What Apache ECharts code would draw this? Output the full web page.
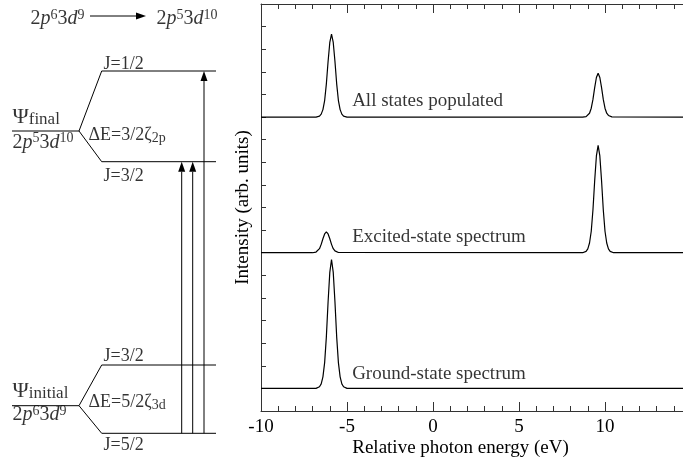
<!DOCTYPE html>
<html><head><meta charset="utf-8">
<script src="https://cdn.jsdelivr.net/npm/echarts/dist/echarts.min.js"></script>
<style>html,body{margin:0;padding:0;background:#fff}#c{width:683px;height:459px}</style>
</head><body><div id="c"></div>
<script>
// ---------- spectrum data (x: relative photon energy eV, y: intensity arb. units, curves offset) ----------
const allStatesSpectrum = [[-10,13.0],[-6.8,13.0],[-6.7,13.01],[-6.6,13.04],[-6.5,13.13],[-6.4,13.33],[-6.3,13.73],[-6.2,14.47],[-6.1,15.46],[-6.0,16.30],[-5.9,16.67],[-5.8,16.30],[-5.7,15.46],[-5.6,14.47],[-5.5,13.73],[-5.4,13.33],[-5.3,13.13],[-5.2,13.04],[-5.1,13.01],[-5.0,13.0],
  [8.7,13.0],[8.8,13.01],[8.9,13.02],[9.0,13.07],[9.1,13.17],[9.2,13.39],[9.3,13.78],[9.4,14.30],[9.5,14.75],[9.6,14.94],[9.7,14.75],[9.8,14.30],[9.9,13.78],[10.0,13.39],[10.1,13.17],[10.2,13.07],[10.3,13.02],[10.4,13.01],[10.5,13.0],[15,13.0]];
const excitedSpectrum = [[-10,7.0],[-7.0,7.0],[-6.9,7.01],[-6.8,7.03],[-6.7,7.08],[-6.6,7.18],[-6.5,7.37],[-6.4,7.62],[-6.3,7.83],[-6.2,7.92],[-6.1,7.83],[-6.0,7.62],[-5.9,7.37],[-5.8,7.18],[-5.7,7.08],[-5.6,7.03],[-5.5,7.01],[-5.4,7.0],
  [8.7,7.0],[8.8,7.02],[8.9,7.06],[9.0,7.17],[9.1,7.43],[9.2,7.95],[9.3,8.90],[9.4,10.18],[9.5,11.28],[9.6,11.75],[9.7,11.28],[9.8,10.18],[9.9,8.90],[10.0,7.95],[10.1,7.43],[10.2,7.17],[10.3,7.06],[10.4,7.02],[10.5,7.0],[15,7.0]];
const groundSpectrum = [[-10,1.0],[-6.8,1.0],[-6.7,1.02],[-6.6,1.07],[-6.5,1.20],[-6.4,1.51],[-6.3,2.14],[-6.2,3.28],[-6.1,4.82],[-6.0,6.13],[-5.9,6.70],[-5.8,6.13],[-5.7,4.82],[-5.6,3.28],[-5.5,2.14],[-5.4,1.51],[-5.3,1.20],[-5.2,1.07],[-5.1,1.02],[-5.0,1.0],[15,1.0]];
const spectrumLabels = ['All states populated', 'Excited-state spectrum', 'Ground-state spectrum'];
const spectrumLabelAnchors = [[-4.73,13.72],[-4.73,7.68],[-4.73,1.64]];
const xAxisTitle = 'Relative photon energy (eV)';
const yAxisTitle = 'Intensity (arb. units)';

// ---------- energy-level diagram (schematic units) ----------
const levelPolylines = [
  [[12,328],[79,328],[101.7,388],[216,388]],
  [[79,328],[101.7,297.3],[216,297.3]],
  [[12,53.3],[79,53.3],[101.7,94],[216,94]],
  [[79,53.3],[101.7,25.7],[216,25.7]]
];
const transitionArrows = [[181.7,25.7,181.7,297.3],[192.7,25.7,192.7,297.3],[204,25.7,204,388],[90,443,146,443]];
const diagramTexts = [
  '{n|2}{i|p}{sup|6}{n|3}{i|d}{sup|9}',
  '{n|2}{i|p}{sup|5}{n|3}{i|d}{sup|10}',
  '{psi|Ψ}{sub|final}',
  '{n|2}{i|p}{sup|5}{n|3}{i|d}{sup|10}',
  '{j|J=1/2}',
  '{j|J=3/2}',
  '{j|ΔE=3/2ζ}{zsub|2p}',
  '{psi|Ψ}{sub|initial}',
  '{n|2}{i|p}{sup|6}{n|3}{i|d}{sup|9}',
  '{j|J=3/2}',
  '{j|J=5/2}',
  '{j|ΔE=5/2ζ}{zsub|3d}'
];
const diagramTextAnchors = [[30,440],[156,440],[12,341.5],[12,316.5],[103,395],[103,283],[88,324],[12,68],[12,44],[103,103],[103,14],[88,57]];

const FONT = 'Liberation Serif';
const chart = echarts.init(document.getElementById('c'), null, {renderer: 'canvas'});

const lineSeries = [allStatesSpectrum, excitedSpectrum, groundSpectrum].map(d => ({
  type: 'line', xAxisIndex: 0, yAxisIndex: 0, data: d, symbol: 'none', silent: true,
  lineStyle: {color: '#000', width: 1.2}
}));

const levelSeries = levelPolylines.map(d => ({
  type: 'line', xAxisIndex: 2, yAxisIndex: 1, data: d, symbol: 'none', silent: true,
  lineStyle: {color: '#000', width: 1}
}));

const rich = {
  n: {fontFamily: FONT, fontSize: 20, lineHeight: 22, color: '#000'},
  i: {fontFamily: FONT, fontSize: 20, lineHeight: 22, fontStyle: 'italic', color: '#000'},
  sup: {fontFamily: FONT, fontSize: 14, lineHeight: 16, verticalAlign: 'top', color: '#000'},
  psi: {fontFamily: FONT, fontSize: 22, lineHeight: 22, color: '#000'},
  sub: {fontFamily: FONT, fontSize: 17, lineHeight: 12, verticalAlign: 'bottom', color: '#000'},
  j: {fontFamily: FONT, fontSize: 18, lineHeight: 20, color: '#000'},
  zsub: {fontFamily: FONT, fontSize: 14, lineHeight: 14, verticalAlign: 'bottom', color: '#000'}
};

const option = {
  animation: false,
  backgroundColor: '#fff',
  grid: [
    {left: 261, top: 4, width: 430, height: 407, containLabel: false, outerBoundsMode: 'none'},
    {left: 0, top: 0, width: 230, height: 459, containLabel: false, outerBoundsMode: 'none'}
  ],
  xAxis: [
    {gridIndex: 0, type: 'value', min: -10, max: 15, interval: 5, position: 'bottom',
     axisLine: {show: true, onZero: false, lineStyle: {color: '#333', width: 1}},
     axisTick: {show: true, inside: true, length: 9, lineStyle: {color: '#333'}},
     minorTick: {show: true, splitNumber: 5, length: 5, lineStyle: {color: '#333'}},
     splitLine: {show: false},
     axisLabel: {fontFamily: FONT, fontSize: 19, color: '#000', margin: 7},
     name: xAxisTitle, nameLocation: 'middle', nameGap: 28, nameMoveOverlap: false,
     nameTextStyle: {fontFamily: FONT, fontSize: 19, color: '#000', padding: [0, 31, 0, 0]}},
    {gridIndex: 0, type: 'value', min: -10, max: 15, interval: 5, position: 'top',
     axisLine: {show: true, onZero: false, lineStyle: {color: '#333', width: 1}},
     axisTick: {show: true, inside: true, length: 9, lineStyle: {color: '#333'}},
     minorTick: {show: true, splitNumber: 5, length: 5, lineStyle: {color: '#333'}},
     splitLine: {show: false}, axisLabel: {show: false}},
    {gridIndex: 1, type: 'value', min: 0, max: 230, show: false}
  ],
  yAxis: [
    {gridIndex: 0, type: 'value', min: 0, max: 18, interval: 1,
     axisLine: {show: true, onZero: false, lineStyle: {color: '#333', width: 1}},
     axisTick: {show: true, inside: true, length: 5, lineStyle: {color: '#333'}},
     splitLine: {show: false}, axisLabel: {show: false},
     name: yAxisTitle, nameLocation: 'middle', nameGap: 8, nameRotate: 90, nameMoveOverlap: false,
     nameTextStyle: {fontFamily: FONT, fontSize: 19, color: '#000'}},
    {gridIndex: 1, type: 'value', min: 0, max: 459, show: false}
  ],
  series: [
    ...lineSeries,
    {type: 'scatter', xAxisIndex: 0, yAxisIndex: 0, symbolSize: 1, silent: true,
     itemStyle: {color: 'rgba(0,0,0,0)'},
     label: {show: true, position: 'right', distance: 0, fontFamily: FONT, fontSize: 19, color: '#000',
             formatter: p => spectrumLabels[p.dataIndex]},
     data: spectrumLabelAnchors},
    ...levelSeries,
    {type: 'custom', xAxisIndex: 2, yAxisIndex: 1, silent: true,
     encode: {x: [0, 2], y: [1, 3]},
     renderItem: function (params, api) {
       const p0 = api.coord([api.value(0), api.value(1)]);
       const p1 = api.coord([api.value(2), api.value(3)]);
       const dx = p1[0] - p0[0], dy = p1[1] - p0[1];
       const len = Math.sqrt(dx * dx + dy * dy);
       const ux = dx / len, uy = dy / len, head = 10, hw = 3.5;
       const bx = p1[0] - ux * head, by = p1[1] - uy * head;
       return {type: 'group', children: [
         {type: 'line', shape: {x1: p0[0], y1: p0[1], x2: bx, y2: by}, style: {stroke: '#000', lineWidth: 1}},
         {type: 'polygon', shape: {points: [[p1[0], p1[1]], [bx - uy * hw, by + ux * hw], [bx + uy * hw, by - ux * hw]]}, style: {fill: '#000'}}
       ]};
     },
     data: transitionArrows},
    {type: 'scatter', xAxisIndex: 2, yAxisIndex: 1, symbolSize: 1, silent: true,
     itemStyle: {color: 'rgba(0,0,0,0)'},
     label: {show: true, position: 'right', distance: 0, color: '#000', rich: rich,
             formatter: p => diagramTexts[p.dataIndex]},
     data: diagramTextAnchors}
  ]
};
chart.setOption(option);
</script></body></html>
